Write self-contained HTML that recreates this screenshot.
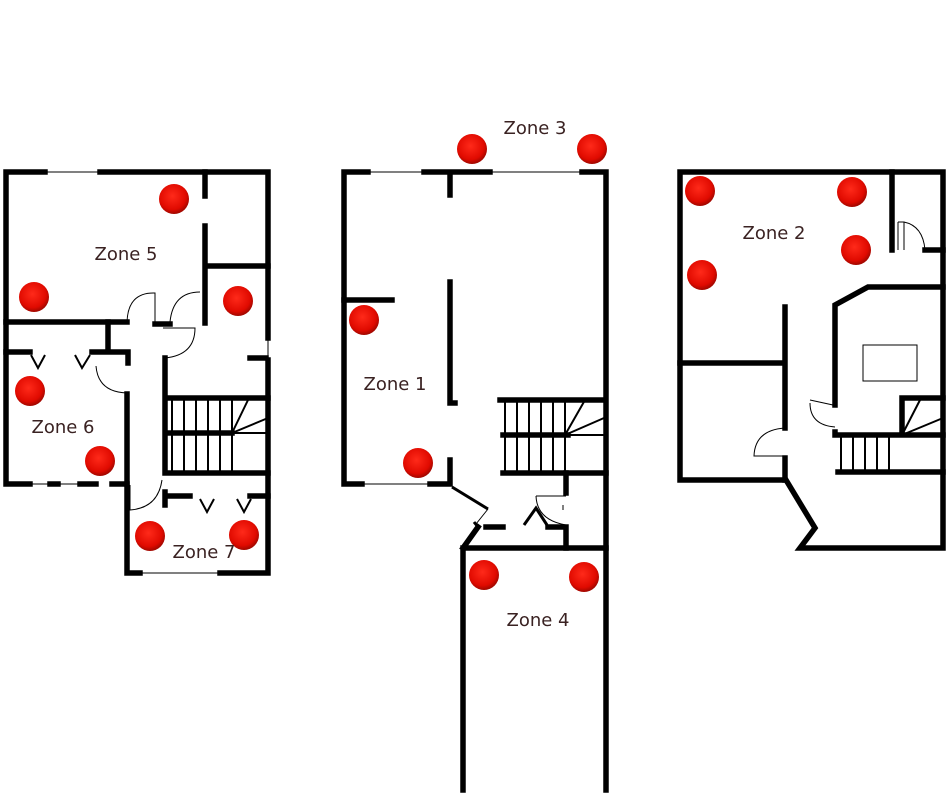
<!DOCTYPE html>
<html><head><meta charset="utf-8"><style>
html,body{margin:0;padding:0;background:#fff;}
svg{display:block}
text{font-family:"DejaVu Sans","Liberation Sans",sans-serif;font-size:18px;fill:#3a2222;text-anchor:middle}
</style></head><body>
<svg width="950" height="800" viewBox="0 0 950 800" xmlns="http://www.w3.org/2000/svg">
<defs>
<radialGradient id="g" cx="45%" cy="40%" r="60%">
<stop offset="0" stop-color="#ff2a1a"/><stop offset="0.75" stop-color="#e00a00"/><stop offset="1" stop-color="#a00800"/>
</radialGradient>
</defs>
<g fill="none" stroke="#000" stroke-width="5.5" stroke-linecap="square">
<path d="M6,172 V484 H30 M50,484 H58 M80,484 H96 M112,484 H127 V573 H140 M220,573 H268 V360 M268,338 V172 H100 M45,172 H6"/>
<path d="M205,172 V196 M205,226 V323 M205,266 H268"/>
<path d="M6,322 H127 M155,324 H170"/>
<path d="M108,322 V352 M6,352 H30 M92,352 H128 V363"/>
<path d="M127,394 V484"/>
<path d="M165,358 V398 H268 M165,433 H232 M165,398 V473 M165,473 H268 M165,492 V505 M165,496 H190 M250,496 H268"/>
<path d="M250,358 H266"/>
</g>
<g fill="none" stroke="#000" stroke-width="2">
<path d="M172,400 V473 M184,400 V473 M196,400 V473 M208,400 V473 M220,400 V473 M232,400 V473 M232,433 L248,400 M232,433 L268,418 M232,433 H268"/>
<path d="M31,355 L38,368 L45,355 M75,355 L82,368 L90,355"/>
<path d="M200,499 L207,512 L214,499 M237,499 L244,512 L251,499"/>
</g>
<g fill="none" stroke="#000" stroke-width="1">
<path d="M47,172 H100 M32,484 H48 M60,484 H78 M142,573 H218"/>
<path d="M127,322 Q128,292 155,293 V322 M170,322 Q173,292 200,292 M163,328 H195 Q195,355 165,358 M96,366 Q98,392 127,393 M130,485 V510 Q158,508 162,480 M268,340 V358"/>
</g>
<g fill="none" stroke="#000" stroke-width="5.5" stroke-linecap="square">
<path d="M368,172 H344 V484 H362 M430,484 H450 V460 M450,282 V403 H455 M450,172 V195 M424,172 H490 M582,172 H606 V548"/>
<path d="M344,300 H392"/>
<path d="M500,400 H604 M503,435 H568 M503,473 H606"/>
<path d="M566,473 V493 M548,527 H566 V548 M486,527 H503"/>
<path d="M463,548 H606 M463,548 V790 M606,548 V790 M463,548 L478,527"/>
</g>
<g fill="none" stroke="#000" stroke-width="3">
<path d="M452,487 L488,509 M478,527 L474,522"/>
<path d="M524,525 L536,508 L547,525"/>
</g>
<g fill="none" stroke="#000" stroke-width="2">
<path d="M505,400 V473 M517,400 V473 M529,400 V473 M541,400 V473 M553,400 V473 M565,400 V473 M565,435 L585,400 M565,435 L604,418 M565,435 H604"/>
</g>
<g fill="none" stroke="#000" stroke-width="1">
<path d="M370,172 H422 M492,172 H580 M364,484 H428"/>
<path d="M488,509 L476,524 M536,496 H566 M536,496 Q537,520 566,525 M563,505 V510"/>
</g>
<g fill="none" stroke="#000" stroke-width="5.5" stroke-linecap="square">
<path d="M680,172 H943 V548 H800 L815,528 L786,480 H680 Z"/>
<path d="M892,172 V250 M925,250 H943"/>
<path d="M835,405 V305 L868,287 H943"/>
<path d="M835,432 V435 H943 M838,472 H943 M902,398 H943 M902,398 V435"/>
<path d="M785,307 V428 M785,458 V480 M680,363 H785"/>
</g>
<g fill="none" stroke="#000" stroke-width="2">
<path d="M841,435 V472 M853,435 V472 M865,435 V472 M877,435 V472 M889,435 V472 M902,435 L920,400 M902,435 L943,418"/>
</g>
<g fill="none" stroke="#000" stroke-width="1">
<rect x="863" y="345" width="54" height="36"/>
<path d="M898,222 H904 Q923,226 925,250 M898,222 V250 M904,222 V250"/>
<path d="M810,400 L833,405 M810,403 Q810,425 835,427"/>
<path d="M785,428 Q755,430 754,456 H785"/>
<path d="M845,435 H943"/>
</g>
<g fill="url(#g)">
<circle cx="174" cy="199" r="15"/><circle cx="34" cy="297" r="15"/><circle cx="238" cy="301" r="15"/>
<circle cx="30" cy="391" r="15"/><circle cx="100" cy="461" r="15"/><circle cx="150" cy="536" r="15"/><circle cx="244" cy="535" r="15"/>
<circle cx="472" cy="149" r="15"/><circle cx="592" cy="149" r="15"/>
<circle cx="364" cy="320" r="15"/><circle cx="418" cy="463" r="15"/>
<circle cx="484" cy="575" r="15"/><circle cx="584" cy="577" r="15"/>
<circle cx="700" cy="191" r="15"/><circle cx="852" cy="192" r="15"/><circle cx="856" cy="250" r="15"/><circle cx="702" cy="275" r="15"/>
</g>
<text x="126" y="260">Zone 5</text>
<text x="63" y="433">Zone 6</text>
<text x="204" y="558">Zone 7</text>
<text x="535" y="134">Zone 3</text>
<text x="395" y="390">Zone 1</text>
<text x="538" y="626">Zone 4</text>
<text x="774" y="239">Zone 2</text>
</svg>
</body></html>
